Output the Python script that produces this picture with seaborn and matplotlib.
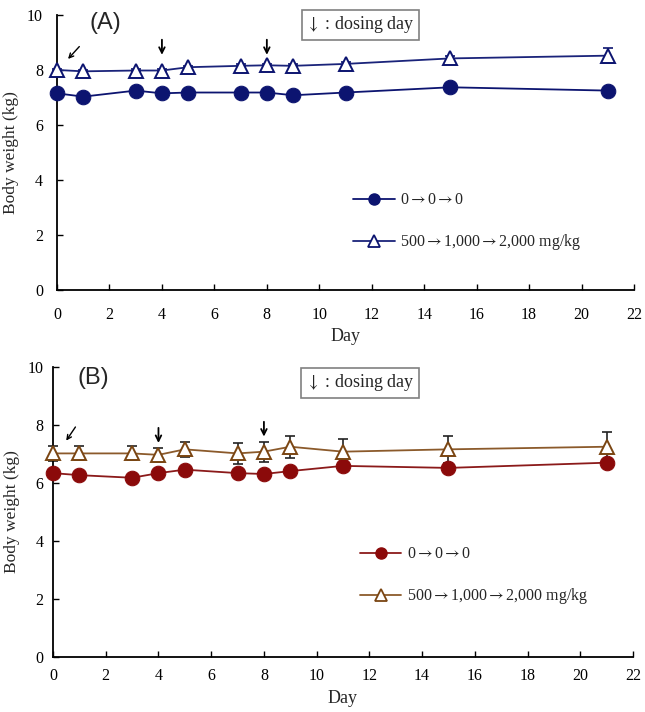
import matplotlib
matplotlib.use("Agg")
import matplotlib.pyplot as plt
import seaborn as sns
import pandas as pd
from matplotlib.lines import Line2D

# ---------------- DATA ----------------
days = [0, 1, 3, 4, 5, 7, 8, 9, 11, 15, 21]

ctrl_a = [7.15, 7.03, 7.25, 7.15, 7.18, 7.18, 7.18, 7.08, 7.18, 7.37, 7.25]
ctrl_a_err = [0.08, 0.08, 0.08, 0.08, 0.08, 0.08, 0.08, 0.08, 0.08, 0.08, 0.08]
dose_a = [8.0, 7.95, 7.98, 7.98, 8.1, 8.15, 8.17, 8.15, 8.22, 8.42, 8.52]
dose_a_err = [0.05, 0.05, 0.05, 0.05, 0.05, 0.05, 0.06, 0.05, 0.07, 0.1, 0.28]

ctrl_b = [6.34, 6.27, 6.18, 6.34, 6.46, 6.34, 6.31, 6.41, 6.59, 6.52, 6.70]
ctrl_b_err = [0.1, 0.1, 0.1, 0.1, 0.1, 0.1, 0.1, 0.1, 0.1, 0.1, 0.1]
dose_b = [7.02, 7.02, 7.02, 6.97, 7.16, 7.02, 7.08, 7.25, 7.08, 7.16, 7.25]
dose_b_err = [0.27, 0.24, 0.24, 0.25, 0.26, 0.37, 0.34, 0.38, 0.44, 0.47, 0.52]

legend_labels = [r"0$\rightarrow$0$\rightarrow$0",
                 r"500$\rightarrow$1,000$\rightarrow$2,000 mg/kg"]
x_ticks = list(range(0, 23, 2))
y_ticks = list(range(0, 11, 2))

# ---------------- STYLE ----------------
sns.set_style("ticks")
plt.rcParams["font.family"] = ["Liberation Serif", "DejaVu Serif", "DejaVu Sans"]
plt.rcParams["mathtext.fontset"] = "stix"
plt.rcParams["xtick.direction"] = "in"
plt.rcParams["ytick.direction"] = "in"

fig = plt.figure(figsize=(6.45, 7.12), dpi=100)
ax_a = fig.add_axes([0.0884, 0.5927, 0.8946, 0.3863])
ax_b = fig.add_axes([0.0822, 0.0772, 0.8992, 0.4074])

panels = [
    dict(ax=ax_a, ctrl=ctrl_a, ctrl_err=ctrl_a_err, dose=dose_a, dose_err=dose_a_err,
         c_ctrl="#0c1470", c_ctrl_line="#0c1470", c_dose="#0c1470", c_dose_line="#1a237a",
         c_err="#0c1470", tag="(A)", tag_xy=(0.057, 1.01), xpad=12, ypad=10, ylpad=6,
         arrows=[(4, 9.1, 4, 8.55), (8, 9.1, 8, 8.55)], diag=(0.85, 8.85, 0.42, 8.4),
         box_xy=(0.526, 1.002), leg_xy=(0.513, 0.355)),
    dict(ax=ax_b, ctrl=ctrl_b, ctrl_err=ctrl_b_err, dose=dose_b, dose_err=dose_b_err,
         c_ctrl="#8b0a0a", c_ctrl_line="#8b1a1a", c_dose="#7a4512", c_dose_line="#8b5a2b",
         c_err="#222222", tag="(B)", tag_xy=(0.043, 1.0), xpad=8, ypad=7, ylpad=5,
         arrows=[(4, 7.9, 4, 7.38), (8, 8.11, 8, 7.6)], diag=(0.85, 7.93, 0.5, 7.46),
         box_xy=(0.53, 0.981), leg_xy=(0.529, 0.382)),
]

for p in panels:
    ax = p["ax"]
    df = pd.DataFrame({"Day": days, "ctrl": p["ctrl"], "dose": p["dose"]})

    for vals, errs in [(p["ctrl"], p["ctrl_err"]), (p["dose"], p["dose_err"])]:
        eb = ax.errorbar(days, vals, yerr=errs, fmt="none", ecolor=p["c_err"],
                         elinewidth=1.2, capsize=3.5, capthick=1.2, zorder=1)
        for art in eb.lines[1] + eb.lines[2]:
            art.set_clip_on(False)

    sns.lineplot(data=df, x="Day", y="ctrl", ax=ax, color=p["c_ctrl_line"], lw=1.3,
                 marker="o", markersize=10.5, markerfacecolor=p["c_ctrl"],
                 markeredgecolor=p["c_ctrl"], zorder=3, clip_on=False)
    sns.lineplot(data=df, x="Day", y="dose", ax=ax, color=p["c_dose_line"], lw=1.3,
                 marker="^", markersize=10, markerfacecolor="white",
                 markeredgecolor=p["c_dose"], markeredgewidth=1.4, zorder=3, clip_on=False)

    ax.set_xlim(0, 22)
    ax.set_ylim(0, 10)
    ax.set_xticks(x_ticks)
    ax.set_yticks(y_ticks)
    ax.tick_params(labelsize=11.5, length=4, width=1, colors="black")
    ax.tick_params(axis="y", pad=p["ypad"])
    ax.tick_params(axis="x", pad=p["xpad"])
    sns.despine(ax=ax)
    for s in ["left", "bottom"]:
        ax.spines[s].set_linewidth(1.3)
        ax.spines[s].set_color("black")
    ax.set_xlabel("Day", fontsize=13, labelpad=4)
    ax.set_ylabel("Body weight (kg)", fontsize=12.5, labelpad=p["ylpad"])

    ax.text(*p["tag_xy"], p["tag"], transform=ax.transAxes, fontsize=17,
            family=["Liberation Sans", "DejaVu Sans"], va="top", ha="left")

    for x0, y0, x1, y1 in p["arrows"]:
        ax.annotate("", xy=(x1, y1), xytext=(x0, y0),
                    arrowprops=dict(arrowstyle="->", lw=1.3, color="black",
                                    shrinkA=0, shrinkB=0, mutation_scale=10))
    x0, y0, x1, y1 = p["diag"]
    ax.annotate("", xy=(x1, y1), xytext=(x0, y0),
                arrowprops=dict(arrowstyle="->", lw=1.0, color="black",
                                shrinkA=0, shrinkB=0, mutation_scale=8))

    ax.text(*p["box_xy"], r"$\downarrow$ : dosing day", transform=ax.transAxes,
            fontsize=13, ha="center", va="top",
            bbox=dict(boxstyle="square,pad=0.25", fc="white", ec="#808080", lw=1.2))

    handles = [
        Line2D([], [], color=p["c_ctrl_line"], lw=1.3, marker="o", markersize=8,
               markerfacecolor=p["c_ctrl"], markeredgecolor=p["c_ctrl"]),
        Line2D([], [], color=p["c_dose_line"], lw=1.3, marker="^", markersize=8,
               markerfacecolor="white", markeredgecolor=p["c_dose"], markeredgewidth=1.3),
    ]
    ax.legend(handles, legend_labels, loc="upper left", bbox_to_anchor=p["leg_xy"],
              frameon=False, fontsize=11.5, handlelength=2.6, handletextpad=0.35,
              labelspacing=1.5, borderpad=0, borderaxespad=0)

fig.savefig("out.png", dpi=100)
